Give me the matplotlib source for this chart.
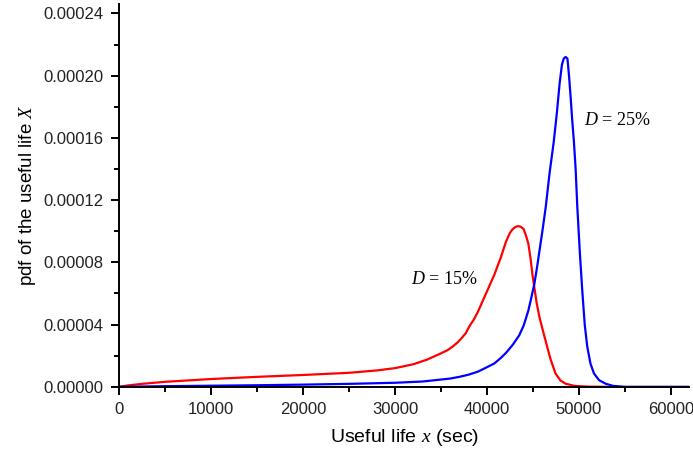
import matplotlib.pyplot as plt
from matplotlib.ticker import MultipleLocator, FormatStrFormatter

plt.rcParams['font.family'] = ['Liberation Sans', 'DejaVu Sans']
plt.rcParams['mathtext.fontset'] = 'custom'
plt.rcParams['mathtext.it'] = 'Liberation Serif:italic'
plt.rcParams['mathtext.rm'] = 'Liberation Serif'

# pdf of the useful life, damage D = 15%
x_d15 = [0, 1000, 2500, 5000, 10000, 15000, 20000, 25000, 28000, 30000,
         32000, 33500, 35000, 35700, 36300, 36800, 37200, 37700, 38100,
         38600, 39000, 39900, 40800, 41500, 42050, 42500, 42800, 43100,
         43400, 43700, 44000, 44250, 44500, 44750, 44950, 45150, 45400,
         45700, 46000, 46400, 46900, 47450, 48000, 48550, 49500, 51000,
         53000]
pdf_d15 = [0, 0.9e-6, 1.9e-6, 3.2e-6, 5.0e-6, 6.4e-6, 7.6e-6, 9.0e-6,
           1.05e-5, 1.2e-5, 1.45e-5, 1.75e-5, 2.15e-5, 2.35e-5, 2.6e-5,
           2.85e-5, 3.1e-5, 3.45e-5, 3.9e-5, 4.35e-5, 4.8e-5, 6.0e-5,
           7.2e-5, 8.3e-5, 9.3e-5, 9.9e-5, 1.013e-4, 1.028e-4, 1.033e-4,
           1.028e-4, 1.013e-4, 9.7e-5, 9.2e-5, 8.2e-5, 7.2e-5, 6.4e-5,
           5.4e-5, 4.5e-5, 3.8e-5, 2.9e-5, 1.8e-5, 8.6e-6, 4.0e-6, 2.0e-6,
           6e-7, 1e-7, 0]

# pdf of the useful life, damage D = 25%
x_d25 = [0, 5000, 10000, 15000, 20000, 25000, 30000, 33000, 36000, 37000,
         38000, 39000, 39800, 40800, 41500, 42100, 42800, 43500, 44000,
         44500, 44850, 45150, 45450, 45750, 46050, 46400, 46800, 47250,
         47600, 47900, 48150, 48350, 48550, 48750, 48920, 49100, 49250,
         49460, 49640, 49820, 50100, 50360, 50630, 50900, 51250, 51630,
         52200, 52900, 53700, 55000, 62000]
pdf_d25 = [0, 4e-7, 7e-7, 1.0e-6, 1.4e-6, 1.9e-6, 2.6e-6, 3.4e-6, 5.3e-6,
           6.4e-6, 7.8e-6, 9.7e-6, 1.2e-5, 1.5e-5, 1.85e-5, 2.2e-5, 2.7e-5,
           3.3e-5, 3.95e-5, 4.9e-5, 5.8e-5, 6.6e-5, 7.7e-5, 8.9e-5,
           1.01e-4, 1.16e-4, 1.37e-4, 1.57e-4, 1.76e-4, 1.95e-4, 2.07e-4,
           2.11e-4, 2.12e-4, 2.11e-4, 2.0e-4, 1.86e-4, 1.73e-4, 1.57e-4,
           1.4e-4, 1.16e-4, 8.6e-5, 6.2e-5, 4.0e-5, 2.6e-5, 1.5e-5, 8.6e-6,
           4.2e-6, 2.0e-6, 6e-7, 0, 0]

fig = plt.figure(figsize=(6.93, 4.54), dpi=100)
ax = fig.add_axes([0.1717, 0.148, 0.823, 0.843])

ax.plot(x_d15, pdf_d15, color='#ff0000', lw=1.6)
ax.plot(x_d25, pdf_d25, color='#0000ff', lw=1.6)

ax.set_xlim(0, 62000)
ax.set_ylim(0, 0.000246)
ax.xaxis.set_major_locator(MultipleLocator(10000))
ax.xaxis.set_minor_locator(MultipleLocator(5000))
ax.yaxis.set_major_locator(MultipleLocator(0.00004))
ax.yaxis.set_minor_locator(MultipleLocator(0.00002))
ax.yaxis.set_major_formatter(FormatStrFormatter('%.5f'))

for side in ['top', 'right']:
    ax.spines[side].set_visible(False)
for side in ['left', 'bottom']:
    ax.spines[side].set_linewidth(1.4)
ax.tick_params(which='major', length=6, width=1.4, labelsize=12, pad=5,
               labelcolor='#222222')
ax.tick_params(which='minor', length=3.5, width=1.4)

ax.set_xlabel('Useful life $x$ (sec)', fontsize=14, labelpad=7)
ax.set_ylabel('pdf of the useful life $X$', fontsize=13.5, labelpad=4)

ax.text(35350, 0.0000689, '$D$ = 15%', family='Liberation Serif',
        fontsize=13, ha='center', va='center')
ax.text(54160, 0.0001709, '$D$ = 25%', family='Liberation Serif',
        fontsize=13, ha='center', va='center')

fig.savefig('out.png', dpi=100)
